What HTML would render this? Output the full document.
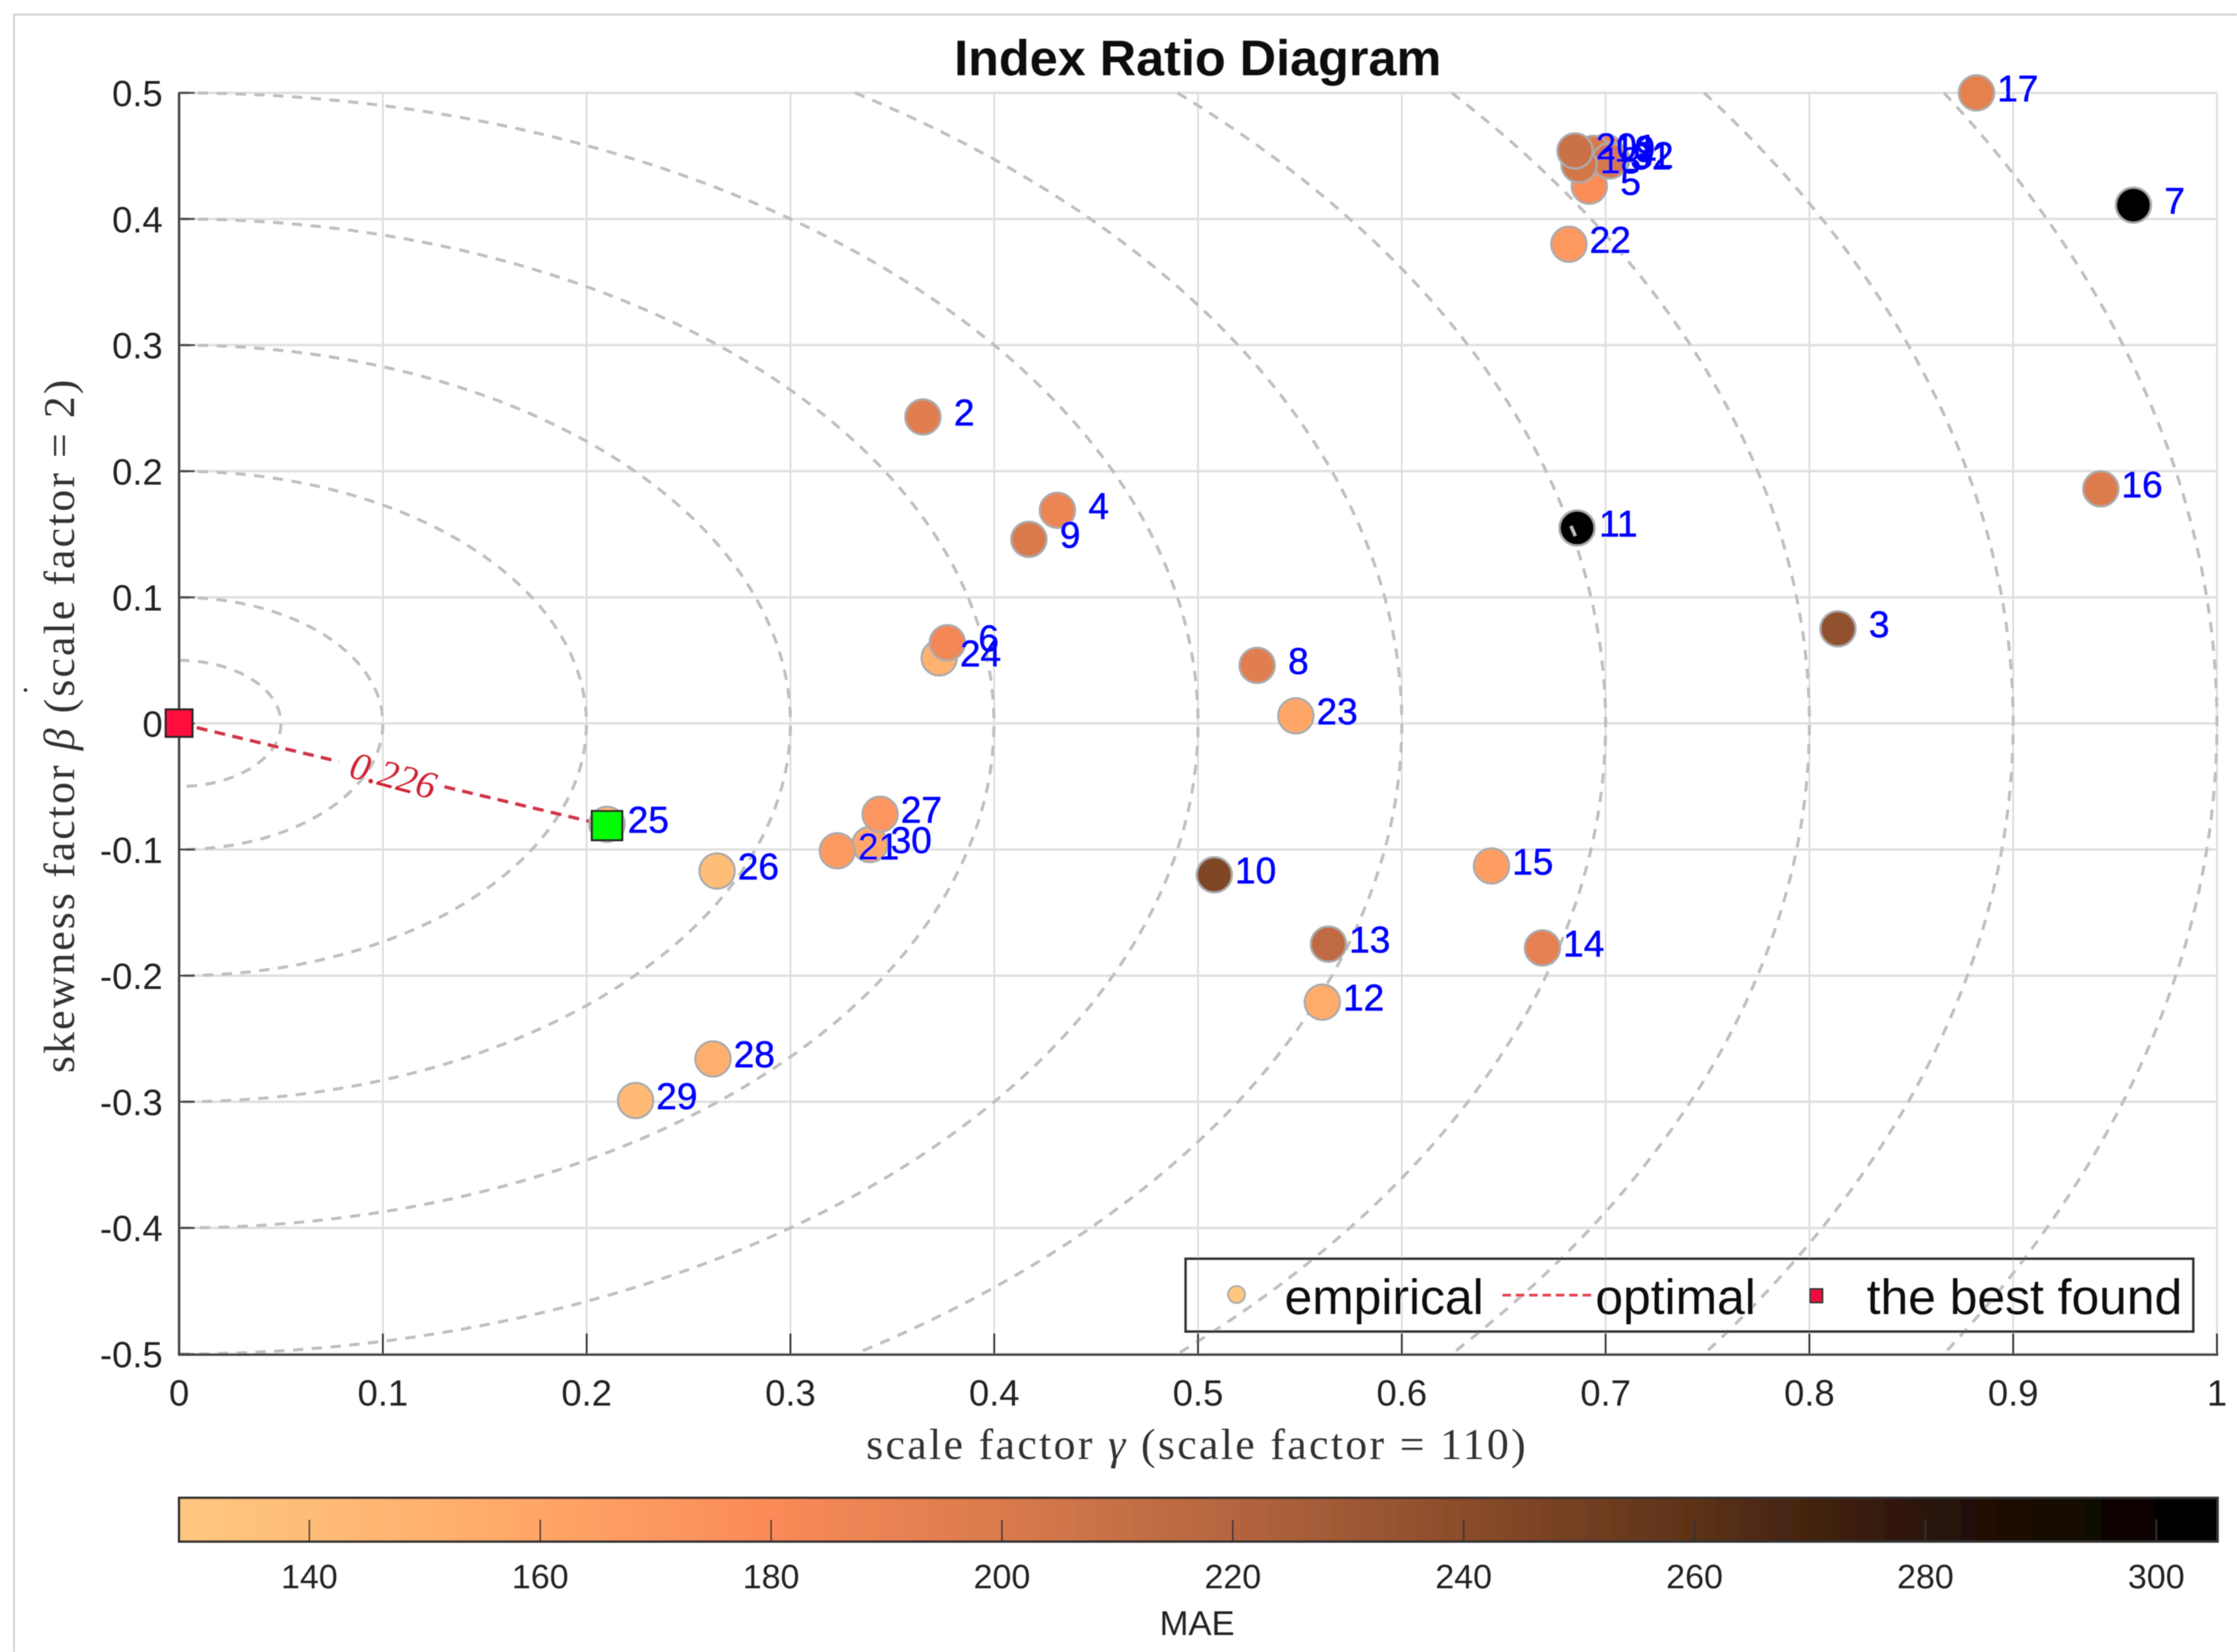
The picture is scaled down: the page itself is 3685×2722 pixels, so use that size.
<!DOCTYPE html>
<html lang="en">
<head>
<meta charset="utf-8">
<title>Index Ratio Diagram</title>
<style>
html,body{margin:0;padding:0;background:#fff;width:3685px;height:2722px;overflow:hidden}
svg{display:block;position:absolute;left:0;top:0;overflow:hidden}
text{font-family:"Liberation Sans",sans-serif}
.serif{font-family:"Liberation Serif",serif}
</style>
</head>
<body>
<svg id="chart" xmlns="http://www.w3.org/2000/svg" width="3685" height="2722" viewBox="0 0 3685 2722">
  <defs>
    <linearGradient id="cbar-gradient" gradientUnits="userSpaceOnUse" x1="295" y1="0" x2="3653" y2="0"></linearGradient>
    <filter id="soft" filterUnits="userSpaceOnUse" x="0" y="0" width="3685" height="2722"><feGaussianBlur stdDeviation="0.8"/></filter>
  </defs>
  <rect x="0" y="0" width="3685" height="2722" fill="#fff"/>
  <g filter="url(#soft)">
  <path d="M3685 24 H23 V2722" fill="none" stroke="#cfcfcf" stroke-width="3"/>
  <g id="grid"></g>
  <g id="contours"></g>
  <g id="axes"></g>
  <g id="optimal"></g>
  <g id="points"></g>
  <g id="markers"></g>
  <g id="labels"></g>

  <text x="1973" y="124" font-size="83" font-weight="bold" text-anchor="middle" fill="#111">Index Ratio Diagram</text>

  <text class="serif" x="1972" y="2404" font-size="72" letter-spacing="3.9" text-anchor="middle" fill="#333">scale factor <tspan font-style="italic">γ</tspan> (scale factor = 110)</text>
  <text class="serif" transform="translate(122 1195) rotate(-90)" font-size="72" letter-spacing="3.5" text-anchor="middle" fill="#333">skewness factor <tspan font-style="italic">β</tspan> (scale factor = 2)</text>
  <circle cx="42" cy="1137" r="3" fill="#333"/>

  <g>
    <rect x="1953" y="2074" width="1660" height="120" fill="none" stroke="#333" stroke-width="4"/>
    <circle cx="2037" cy="2133" r="14" fill="#FFC67F" stroke="#aaa" stroke-width="3"/>
    <text x="2116" y="2165" font-size="82" fill="#111">empirical</text>
    <line x1="2475" y1="2134" x2="2623" y2="2134" stroke="#E8414F" stroke-width="4.5" stroke-dasharray="14 8"/>
    <text x="2628" y="2165" font-size="82" fill="#111">optimal</text>
    <rect x="2982" y="2124" width="20" height="22" fill="#F0103C" stroke="#333" stroke-width="3"/>
    <text x="3075" y="2165" font-size="82" fill="#111">the best found</text>
  </g>

  <g>
    <rect x="295" y="2468" width="3358" height="72" fill="url(#cbar-gradient)" stroke="#333" stroke-width="4"/>
    <g id="cbar-ticks"></g>
    <text x="1972" y="2694" font-size="57" text-anchor="middle" fill="#222">MAE</text>
  </g>
  </g>
</svg>

<script>
// ---- chart data ----
const ids   = [1, 2, 3, 4, 5, 6, 7, 8, 9, 10, 11, 12, 13, 14, 15, 16, 17, 18, 19, 20, 21, 22, 23, 24, 25, 26, 27, 28, 29, 30, 31, 32];
const gammaValues = [0.700, 0.365, 0.814, 0.431, 0.692, 0.377, 0.959, 0.529, 0.417, 0.508, 0.686, 0.561, 0.564, 0.669, 0.644, 0.943, 0.882, 0.687, 0.694, 0.685, 0.323, 0.682, 0.548, 0.373, 0.210, 0.264, 0.344, 0.262, 0.224, 0.339, 0.702, 0.703];
const betaValues  = [0.453, 0.243, 0.075, 0.169, 0.426, 0.064, 0.411, 0.046, 0.146, -0.120, 0.155, -0.221, -0.175, -0.178, -0.113, 0.186, 0.500, 0.443, 0.452, 0.454, -0.101, 0.380, 0.006, 0.052, -0.080, -0.117, -0.072, -0.266, -0.299, -0.096, 0.446, 0.447];
const maeValues   = [190, 195, 236, 188, 178, 184, 303, 195, 200, 245, 300, 155, 214, 192, 165, 198, 193, 203, 200, 208, 168, 170, 158, 150, 145, 140, 172, 152, 142, 158, 202, 198];
const contourRadii = [0.05, 0.1, 0.2, 0.3, 0.4, 0.5, 0.6, 0.7, 0.8, 0.9, 1.0];
const xTickValues = [0, 0.1, 0.2, 0.3, 0.4, 0.5, 0.6, 0.7, 0.8, 0.9, 1];
const xTickLabels = ["0", "0.1", "0.2", "0.3", "0.4", "0.5", "0.6", "0.7", "0.8", "0.9", "1"];
const yTickValues = [0.5, 0.4, 0.3, 0.2, 0.1, 0, -0.1, -0.2, -0.3, -0.4, -0.5];
const yTickLabels = ["0.5", "0.4", "0.3", "0.2", "0.1", "0", "-0.1", "-0.2", "-0.3", "-0.4", "-0.5"];
const cbarTickValues = [140, 160, 180, 200, 220, 240, 260, 280, 300];
const cbarTickLabels = ["140", "160", "180", "200", "220", "240", "260", "280", "300"];
const cmapValues = [128.7, 140, 160, 180, 200, 220, 240, 260, 280, 300, 305.3];
const cmapColors = ["#FFC67F", "#FFBD77", "#FFA566", "#FA8A58", "#D97A4C", "#B4653F", "#8A4C2A", "#5C3218", "#2A1408", "#060200", "#000000"];
const optimalPoint = [0.210, -0.081];
const bestPoint = [0, 0];
const optimalDistanceLabel = "0.226";

// ---- axis functions ----
const NS = "http://www.w3.org/2000/svg";
const X0 = 295, XS = 3357, Y0 = 1192, YS = 2078;
const CB0 = 509.6, CBS = 19.015;
function sx(g) { return X0 + XS * g; }
function sy(b) { return Y0 - YS * b; }
function scb(v) { return CB0 + CBS * (v - 140); }
function hexToRgb(h) { return [1, 3, 5].map(function (i) { return parseInt(h.substr(i, 2), 16); }); }
function maeColor(v) {
  if (v <= cmapValues[0]) return cmapColors[0];
  for (let i = 1; i < cmapValues.length; i++) {
    if (v <= cmapValues[i]) {
      const t = (v - cmapValues[i - 1]) / (cmapValues[i] - cmapValues[i - 1]);
      const a = hexToRgb(cmapColors[i - 1]), b = hexToRgb(cmapColors[i]);
      return "rgb(" + a.map(function (c, k) { return Math.round(c + (b[k] - c) * t); }).join(",") + ")";
    }
  }
  return cmapColors[cmapColors.length - 1];
}
function mk(tag, attrs, parent, txt) {
  const e = document.createElementNS(NS, tag);
  for (const k in attrs) e.setAttribute(k, attrs[k]);
  if (txt !== undefined) e.textContent = txt;
  parent.appendChild(e);
  return e;
}
const gGrid = document.getElementById("grid");
const gCont = document.getElementById("contours");
const gAxes = document.getElementById("axes");
const gOpt = document.getElementById("optimal");
const gPts = document.getElementById("points");
const gMark = document.getElementById("markers");
const gLab = document.getElementById("labels");
const gCb = document.getElementById("cbar-ticks");
const grad = document.getElementById("cbar-gradient");

// colourbar gradient
cmapValues.forEach(function (v, i) {
  mk("stop", { offset: ((scb(v) - 295) / 3358).toFixed(4), "stop-color": cmapColors[i] }, grad);
});

// grid + ticks: x
xTickValues.forEach(function (v, i) {
  const g = mk("line", { x1: sx(v), x2: sx(v), y1: sy(0.5), y2: sy(-0.5), stroke: "#d8d8d8", "stroke-width": 2.5 }, gGrid);
  
  
  const t = mk("line", { x1: sx(v), x2: sx(v), y1: 2232, y2: 2197, stroke: "#333", "stroke-width": 3 }, gAxes);
  
  
  const l = mk("text", { x: sx(v), y: 2316, "font-size": 60, "text-anchor": "middle", fill: "#222" }, gAxes, xTickLabels[i]);
  
  
});
// grid + ticks: y
yTickValues.forEach(function (v, i) {
  const g = mk("line", { x1: sx(0), x2: sx(1), y1: sy(v), y2: sy(v), stroke: "#e0e0e0", "stroke-width": 4 }, gGrid);
  
  
  const t = mk("line", { x1: 295, x2: 321, y1: sy(v), y2: sy(v), stroke: "#333", "stroke-width": 3 }, gAxes);
  
  
  const l = mk("text", { x: 268, y: sy(v) + 22, "font-size": 60, "text-anchor": "end", fill: "#222" }, gAxes, yTickLabels[i]);
  
  
});
// axis lines
const axisLeft = mk("line", { x1: 295, x2: 295, y1: 152, y2: 2234, stroke: "#444", "stroke-width": 4 }, gAxes);


const axisBottom = mk("line", { x1: 293, x2: 3654, y1: 2232, y2: 2232, stroke: "#444", "stroke-width": 4 }, gAxes);



// contours: only the arc inside the plot window (|beta| <= 0.5, gamma >= 0)
contourRadii.forEach(function (r) {
  const b0 = Math.min(r, 0.5);
  const g0 = Math.sqrt(Math.max(0, r * r - b0 * b0));
  const d = "M" + sx(g0) + " " + sy(b0) + " A" + (XS * r) + " " + (YS * r) + " 0 0 1 " + sx(g0) + " " + sy(-b0);
  const c = mk("path", { d: d, fill: "none", stroke: "#bfbfbf", "stroke-width": 5, "stroke-dasharray": "17 14" }, gCont);
  
  
});

// optimal line with gap for its label
function lerp(a, b, t) { return a + (b - a) * t; }
[[0, 0.373], [0.62, 1]].forEach(function (seg) {
  const ln = mk("line", {
    x1: lerp(sx(bestPoint[0]), sx(optimalPoint[0]), seg[0]),
    y1: lerp(sy(bestPoint[1]), sy(optimalPoint[1]), seg[0]),
    x2: lerp(sx(bestPoint[0]), sx(optimalPoint[0]), seg[1]),
    y2: lerp(sy(bestPoint[1]), sy(optimalPoint[1]), seg[1]),
    stroke: "#D0354A", "stroke-width": 5.5, "stroke-dasharray": "18 12"
  }, gOpt);
  
  
});
const midX = lerp(sx(bestPoint[0]), sx(optimalPoint[0]), 0.5);
const midY = lerp(sy(bestPoint[1]), sy(optimalPoint[1]), 0.5);
const distLabel = mk("text", { "font-size": 64, "font-style": "italic", "text-anchor": "middle", fill: "#D02030", transform: "translate(" + midX + " " + (midY + 3) + ") rotate(15)", y: 20 }, gOpt, optimalDistanceLabel);
distLabel.setAttribute("class", "serif");



// points: darker (higher MAE) markers are painted last
const drawOrder = ids.map(function (id, i) { return i; }).sort(function (a, b) { return maeValues[a] - maeValues[b]; });
drawOrder.forEach(function (i) {
  const c = mk("circle", { cx: sx(gammaValues[i]), cy: sy(betaValues[i]), r: 29, fill: maeColor(maeValues[i]), stroke: "#aaa", "stroke-width": 3.5 }, gPts);
  
  
});
ids.forEach(function (id, i) {
  const t = mk("text", { x: sx(gammaValues[i]) + 68, y: sy(betaValues[i]) + 14, "font-size": 61, "text-anchor": "middle", fill: "#0000FF", stroke: "#0000FF", "stroke-width": 0.8 }, gLab, String(id));
  
  
});

// the contour dash that shows over point 11
const p11 = ids.indexOf(11);
const dash11 = mk("line", { x1: sx(gammaValues[p11]) - 10, y1: sy(betaValues[p11]) - 3, x2: sx(gammaValues[p11]) - 3, y2: sy(betaValues[p11]) + 13, stroke: "#bfbfbf", "stroke-width": 5 }, gPts);



// markers
const red = mk("rect", { x: sx(bestPoint[0]) - 22, y: sy(bestPoint[1]) - 23, width: 44, height: 45, fill: "#FF0A3C", stroke: "#222", "stroke-width": 3.5 }, gMark);


const green = mk("rect", { x: sx(optimalPoint[0]) - 25, y: sy(optimalPoint[1]) - 24, width: 50, height: 48, fill: "#00FF00", stroke: "#222", "stroke-width": 3.5 }, gMark);



// colourbar ticks
cbarTickValues.forEach(function (v, i) {
  const t = mk("line", { x1: scb(v), x2: scb(v), y1: 2504, y2: 2540, stroke: "#333", "stroke-width": 2.5 }, gCb);
  
  
  const l = mk("text", { x: scb(v), y: 2617, "font-size": 56, "text-anchor": "middle", fill: "#222" }, gCb, cbarTickLabels[i]);
  
  
});
</script>
</body>
</html>
